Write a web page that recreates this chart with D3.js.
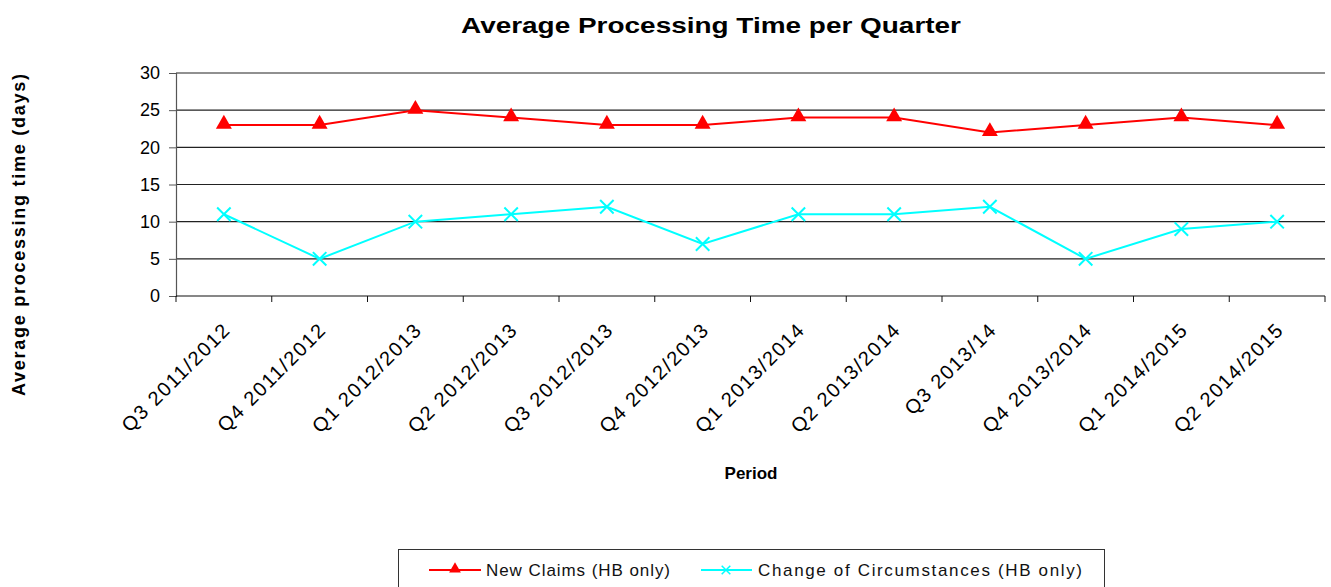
<!DOCTYPE html>
<html>
<head>
<meta charset="utf-8">
<script src="https://cdn.jsdelivr.net/npm/d3@7"></script>
<style>
  body { margin: 0; background: #fff; }
  text { font-family: "Liberation Sans", Arial, sans-serif; }
</style>
</head>
<body>
<div id="chart"></div>
<script>
// data
var periods = ["Q3 2011/2012", "Q4 2011/2012", "Q1 2012/2013", "Q2 2012/2013",
  "Q3 2012/2013", "Q4 2012/2013", "Q1 2013/2014", "Q2 2013/2014",
  "Q3 2013/14", "Q4 2013/2014", "Q1 2014/2015", "Q2 2014/2015"];
var newClaims = [23, 23, 25, 24, 23, 23, 24, 24, 22, 23, 24, 23];
var changeOfCircs = [11, 5, 10, 11, 12, 7, 11, 11, 12, 5, 9, 10];
var yTicks = [0, 5, 10, 15, 20, 25, 30];
var seriesNames = ["New Claims (HB only)", "Change of Circumstances (HB only)"];

var W = 1331, H = 587;
var margin = {top: 73, right: 6, bottom: 291, left: 176},
    width = W - margin.left - margin.right,
    height = H - margin.top - margin.bottom;

var svg = d3.select("#chart")
  .append("svg")
    .attr("width", W)
    .attr("height", H);

// title
svg.append("text")
  .attr("x", 711).attr("y", 33)
  .attr("text-anchor", "middle")
  .attr("font-size", 22).attr("font-weight", "bold")
  .attr("textLength", 500).attr("lengthAdjust", "spacingAndGlyphs")
  .text("Average Processing Time per Quarter");

var g = svg.append("g")
  .attr("transform", "translate(" + margin.left + "," + margin.top + ")");

var x = d3.scaleBand()
  .domain(periods)
  .range([0, width])
  .padding(0);

var y = d3.scaleLinear()
  .domain([0, 30])
  .range([height, 0]);

// gridlines
g.append("g")
  .selectAll("line")
  .data(yTicks.filter(function(d) { return d > 0; }))
  .enter().append("line")
    .attr("x1", 0).attr("x2", width)
    .attr("y1", function(d) { return y(d); })
    .attr("y2", function(d) { return y(d); })
    .attr("stroke", "#222").attr("stroke-width", 1.2);

// y axis
var yAxis = g.append("g")
  .call(d3.axisLeft(y).tickValues(yTicks).tickSize(7).tickPadding(9));
yAxis.select(".domain").attr("stroke", "#555").attr("stroke-width", 1.2);
yAxis.selectAll(".tick line").attr("stroke", "#555");
yAxis.selectAll("text").attr("font-size", 18).attr("fill", "#000")
  .style("font-family", "Liberation Sans, Arial, sans-serif");

// x axis: line + ticks on band edges
var xAxis = g.append("g").attr("transform", "translate(0," + height + ")");
xAxis.append("line")
  .attr("x1", 0).attr("x2", width)
  .attr("stroke", "#111").attr("stroke-width", 1.2);
var edges = periods.map(function(p) { return x(p); }).concat([width]);
xAxis.selectAll(".edge")
  .data(edges)
  .enter().append("line")
    .attr("class", "edge")
    .attr("x1", function(d) { return d; }).attr("x2", function(d) { return d; })
    .attr("y1", 0).attr("y2", 6)
    .attr("stroke", "#111");
xAxis.selectAll(".lbl")
  .data(periods)
  .enter().append("text")
    .attr("class", "lbl")
    .attr("text-anchor", "end")
    .attr("font-size", 20)
    .attr("letter-spacing", 1.6)
    .attr("transform", function(d) {
      return "translate(" + (x(d) + x.bandwidth() / 2 + 8) + ",35)rotate(-45)";
    })
    .text(function(d) { return d; });

// axis titles
svg.append("text")
  .attr("transform", "translate(25,235)rotate(-90)")
  .attr("text-anchor", "middle")
  .attr("font-size", 18).attr("font-weight", "bold")
  .attr("textLength", 322).attr("lengthAdjust", "spacing")
  .text("Average processing time (days)");

svg.append("text")
  .attr("x", 751).attr("y", 479)
  .attr("text-anchor", "middle")
  .attr("font-size", 17).attr("font-weight", "bold")
  .text("Period");

// lines
var line = d3.line()
  .x(function(d, i) { return x(periods[i]) + x.bandwidth() / 2; })
  .y(function(d) { return y(d); });

g.append("path").datum(newClaims)
  .attr("d", line)
  .attr("fill", "none").attr("stroke", "#ff0000").attr("stroke-width", 2);

g.append("path").datum(changeOfCircs)
  .attr("d", line)
  .attr("fill", "none").attr("stroke", "#00ffff").attr("stroke-width", 2);

var tri = d3.symbol().type(d3.symbolTriangle).size(110);
g.selectAll(".tri")
  .data(newClaims)
  .enter().append("path")
    .attr("class", "tri")
    .attr("d", tri)
    .attr("transform", function(d, i) {
      return "translate(" + (x(periods[i]) + x.bandwidth() / 2) + "," + (y(d) - 1) + ")";
    })
    .attr("fill", "#ff0000");

var cross = d3.symbol().type(d3.symbolX).size(120);
g.selectAll(".crs")
  .data(changeOfCircs)
  .enter().append("path")
    .attr("class", "crs")
    .attr("d", cross)
    .attr("transform", function(d, i) {
      return "translate(" + (x(periods[i]) + x.bandwidth() / 2) + "," + y(d) + ")";
    })
    .attr("fill", "none")
    .attr("stroke", "#00ffff").attr("stroke-width", 2);

// legend
var lg = svg.append("g");
lg.append("rect")
  .attr("x", 398.5).attr("y", 549.5)
  .attr("width", 706).attr("height", 60)
  .attr("fill", "none").attr("stroke", "#333");

lg.append("line").attr("x1", 429).attr("x2", 481).attr("y1", 570).attr("y2", 570)
  .attr("stroke", "#ff0000").attr("stroke-width", 2);
lg.append("path").attr("d", d3.symbol().type(d3.symbolTriangle).size(60))
  .attr("transform", "translate(455,569)").attr("fill", "#ff0000");
lg.append("text").attr("x", 486).attr("y", 576)
  .attr("font-size", 17).attr("fill", "#111")
  .attr("textLength", 184).attr("lengthAdjust", "spacing")
  .text(seriesNames[0]);

lg.append("line").attr("x1", 701).attr("x2", 752).attr("y1", 570).attr("y2", 570)
  .attr("stroke", "#00ffff").attr("stroke-width", 2);
lg.append("path").attr("d", d3.symbol().type(d3.symbolX).size(50))
  .attr("transform", "translate(726,570)")
  .attr("fill", "none").attr("stroke", "#00ffff").attr("stroke-width", 1.5);
lg.append("text").attr("x", 758).attr("y", 576)
  .attr("font-size", 17).attr("fill", "#111")
  .attr("textLength", 324).attr("lengthAdjust", "spacing")
  .text(seriesNames[1]);
</script>
</body>
</html>
